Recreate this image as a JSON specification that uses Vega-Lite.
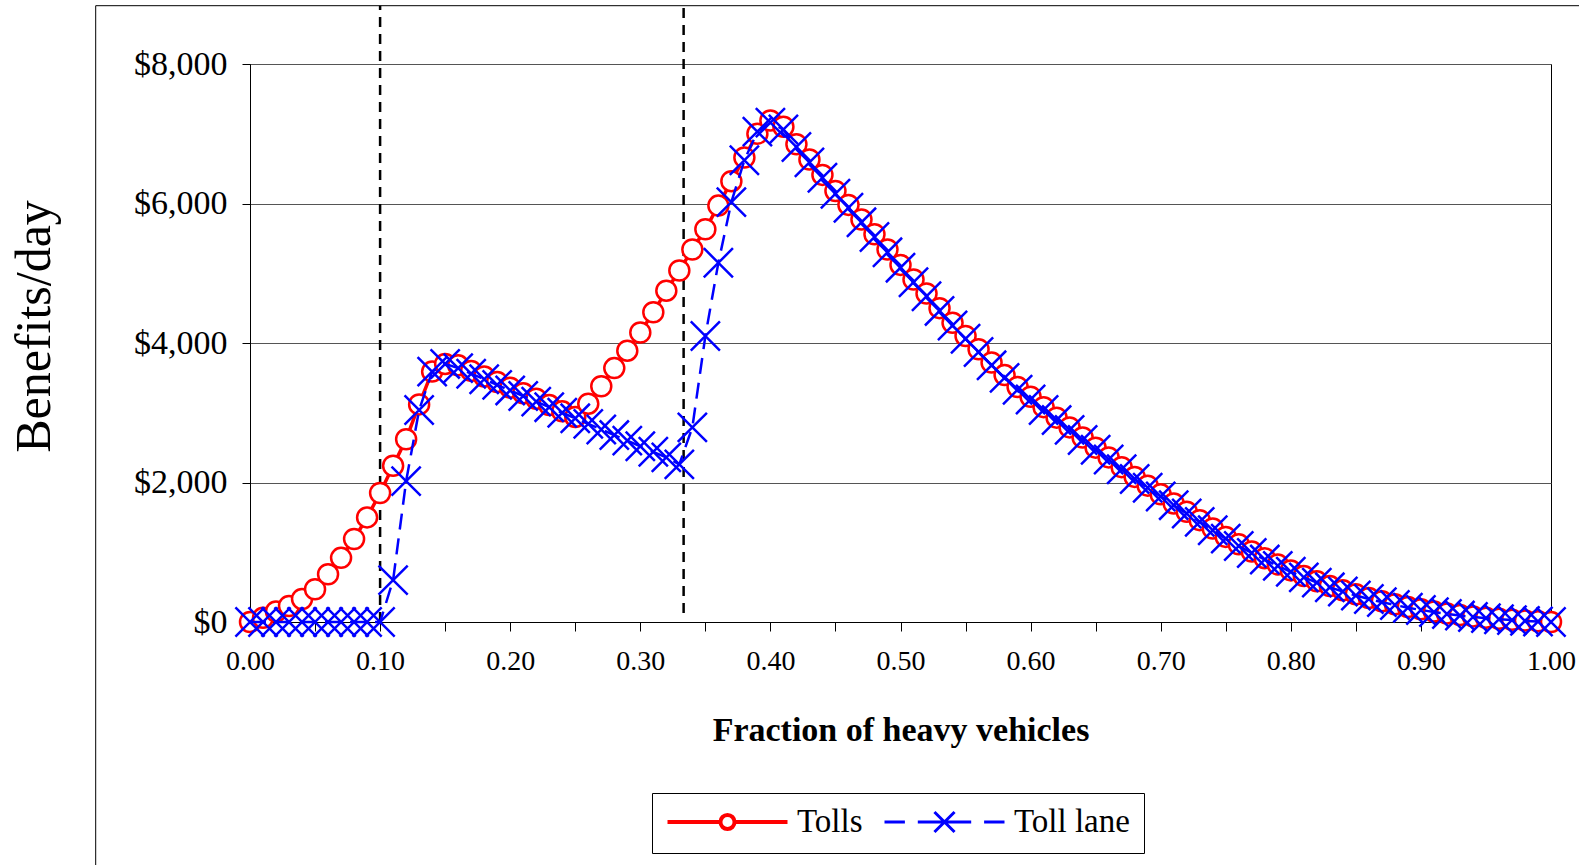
{
  "$schema": "https://vega.github.io/schema/vega-lite/v6.json",
  "width": 1301,
  "height": 558,
  "autosize": {"type": "none"},
  "padding": {"left": 250, "top": 64, "right": 28, "bottom": 243},
  "background": "white",
  "config": {
    "font": "Liberation Serif",
    "view": {"stroke": "#000000", "strokeWidth": 1},
    "axis": {"labelColor": "#000000", "titleColor": "#000000", "domainColor": "#000000", "tickColor": "#000000", "labelFont": "Liberation Serif", "titleFont": "Liberation Serif"}
  },
  "datasets": {
    "benefits": [
      {"x": 0.00, "Tolls": 0, "Toll lane": 0},
      {"x": 0.01, "Tolls": 60, "Toll lane": 0},
      {"x": 0.02, "Tolls": 150, "Toll lane": 0},
      {"x": 0.03, "Tolls": 230, "Toll lane": 0},
      {"x": 0.04, "Tolls": 330, "Toll lane": 0},
      {"x": 0.05, "Tolls": 470, "Toll lane": 0},
      {"x": 0.06, "Tolls": 685, "Toll lane": 0},
      {"x": 0.07, "Tolls": 920, "Toll lane": 0},
      {"x": 0.08, "Tolls": 1190, "Toll lane": 0},
      {"x": 0.09, "Tolls": 1500, "Toll lane": 0},
      {"x": 0.10, "Tolls": 1850, "Toll lane": 0},
      {"x": 0.11, "Tolls": 2240, "Toll lane": 600},
      {"x": 0.12, "Tolls": 2620, "Toll lane": 2020},
      {"x": 0.13, "Tolls": 3120, "Toll lane": 3040},
      {"x": 0.14, "Tolls": 3590, "Toll lane": 3590},
      {"x": 0.15, "Tolls": 3700, "Toll lane": 3700},
      {"x": 0.16, "Tolls": 3680, "Toll lane": 3640},
      {"x": 0.17, "Tolls": 3600, "Toll lane": 3560},
      {"x": 0.18, "Tolls": 3520, "Toll lane": 3480},
      {"x": 0.19, "Tolls": 3440, "Toll lane": 3400},
      {"x": 0.20, "Tolls": 3360, "Toll lane": 3320},
      {"x": 0.21, "Tolls": 3280, "Toll lane": 3240},
      {"x": 0.22, "Tolls": 3200, "Toll lane": 3160},
      {"x": 0.23, "Tolls": 3110, "Toll lane": 3080},
      {"x": 0.24, "Tolls": 3020, "Toll lane": 3000},
      {"x": 0.25, "Tolls": 2940, "Toll lane": 2920},
      {"x": 0.26, "Tolls": 3130, "Toll lane": 2840},
      {"x": 0.27, "Tolls": 3380, "Toll lane": 2760},
      {"x": 0.28, "Tolls": 3640, "Toll lane": 2680},
      {"x": 0.29, "Tolls": 3890, "Toll lane": 2600},
      {"x": 0.30, "Tolls": 4150, "Toll lane": 2520},
      {"x": 0.31, "Tolls": 4440, "Toll lane": 2440},
      {"x": 0.32, "Tolls": 4750, "Toll lane": 2360},
      {"x": 0.33, "Tolls": 5040, "Toll lane": 2260},
      {"x": 0.34, "Tolls": 5340, "Toll lane": 2790},
      {"x": 0.35, "Tolls": 5630, "Toll lane": 4100},
      {"x": 0.36, "Tolls": 5970, "Toll lane": 5150},
      {"x": 0.37, "Tolls": 6320, "Toll lane": 6020},
      {"x": 0.38, "Tolls": 6660, "Toll lane": 6620},
      {"x": 0.39, "Tolls": 7000, "Toll lane": 7030},
      {"x": 0.40, "Tolls": 7190, "Toll lane": 7160},
      {"x": 0.41, "Tolls": 7100, "Toll lane": 7060},
      {"x": 0.42, "Tolls": 6850, "Toll lane": 6810},
      {"x": 0.43, "Tolls": 6630, "Toll lane": 6590},
      {"x": 0.44, "Tolls": 6410, "Toll lane": 6370},
      {"x": 0.45, "Tolls": 6180, "Toll lane": 6140},
      {"x": 0.46, "Tolls": 5980, "Toll lane": 5940},
      {"x": 0.47, "Tolls": 5770, "Toll lane": 5730},
      {"x": 0.48, "Tolls": 5560, "Toll lane": 5520},
      {"x": 0.49, "Tolls": 5340, "Toll lane": 5300},
      {"x": 0.50, "Tolls": 5120, "Toll lane": 5080},
      {"x": 0.51, "Tolls": 4910, "Toll lane": 4870},
      {"x": 0.52, "Tolls": 4710, "Toll lane": 4670},
      {"x": 0.53, "Tolls": 4500, "Toll lane": 4460},
      {"x": 0.54, "Tolls": 4290, "Toll lane": 4250},
      {"x": 0.55, "Tolls": 4100, "Toll lane": 4060},
      {"x": 0.56, "Tolls": 3910, "Toll lane": 3870},
      {"x": 0.57, "Tolls": 3720, "Toll lane": 3680},
      {"x": 0.58, "Tolls": 3540, "Toll lane": 3500},
      {"x": 0.59, "Tolls": 3370, "Toll lane": 3330},
      {"x": 0.60, "Tolls": 3230, "Toll lane": 3190},
      {"x": 0.61, "Tolls": 3080, "Toll lane": 3040},
      {"x": 0.62, "Tolls": 2930, "Toll lane": 2895},
      {"x": 0.63, "Tolls": 2790, "Toll lane": 2755},
      {"x": 0.64, "Tolls": 2645, "Toll lane": 2610},
      {"x": 0.65, "Tolls": 2500, "Toll lane": 2470},
      {"x": 0.66, "Tolls": 2360, "Toll lane": 2330},
      {"x": 0.67, "Tolls": 2220, "Toll lane": 2190},
      {"x": 0.68, "Tolls": 2080, "Toll lane": 2050},
      {"x": 0.69, "Tolls": 1955, "Toll lane": 1925},
      {"x": 0.70, "Tolls": 1830, "Toll lane": 1800},
      {"x": 0.71, "Tolls": 1700, "Toll lane": 1675},
      {"x": 0.72, "Tolls": 1580, "Toll lane": 1555},
      {"x": 0.73, "Tolls": 1460, "Toll lane": 1435},
      {"x": 0.74, "Tolls": 1340, "Toll lane": 1315},
      {"x": 0.75, "Tolls": 1220, "Toll lane": 1195},
      {"x": 0.76, "Tolls": 1115, "Toll lane": 1090},
      {"x": 0.77, "Tolls": 1010, "Toll lane": 990},
      {"x": 0.78, "Tolls": 915, "Toll lane": 895},
      {"x": 0.79, "Tolls": 825, "Toll lane": 805},
      {"x": 0.80, "Tolls": 740, "Toll lane": 720},
      {"x": 0.81, "Tolls": 660, "Toll lane": 640},
      {"x": 0.82, "Tolls": 585, "Toll lane": 565},
      {"x": 0.83, "Tolls": 515, "Toll lane": 497},
      {"x": 0.84, "Tolls": 455, "Toll lane": 437},
      {"x": 0.85, "Tolls": 398, "Toll lane": 380},
      {"x": 0.86, "Tolls": 345, "Toll lane": 330},
      {"x": 0.87, "Tolls": 298, "Toll lane": 285},
      {"x": 0.88, "Tolls": 255, "Toll lane": 243},
      {"x": 0.89, "Tolls": 215, "Toll lane": 205},
      {"x": 0.90, "Tolls": 182, "Toll lane": 172},
      {"x": 0.91, "Tolls": 150, "Toll lane": 142},
      {"x": 0.92, "Tolls": 123, "Toll lane": 115},
      {"x": 0.93, "Tolls": 100, "Toll lane": 92},
      {"x": 0.94, "Tolls": 80, "Toll lane": 72},
      {"x": 0.95, "Tolls": 62, "Toll lane": 55},
      {"x": 0.96, "Tolls": 46, "Toll lane": 40},
      {"x": 0.97, "Tolls": 33, "Toll lane": 27},
      {"x": 0.98, "Tolls": 21, "Toll lane": 16},
      {"x": 0.99, "Tolls": 10, "Toll lane": 7},
      {"x": 1.00, "Tolls": 0, "Toll lane": 0}
    ],
    "thresholds": [
      {"x": 0.1, "lo": 0, "hi": 8836},
      {"x": 0.3333, "lo": 130, "hi": 8836}
    ]
  },
  "layer": [
    {
      "data": {"values": [{}]},
      "mark": {"type": "rule", "color": "#000000", "strokeWidth": 1, "clip": false},
      "encoding": {
        "x": {"datum": -0.1186, "type": "quantitative", "scale": {"domain": [0, 1], "nice": false, "zero": false}},
        "y": {"datum": -3700, "type": "quantitative", "scale": {"domain": [0, 8000], "nice": false}},
        "y2": {"datum": 8836}
      }
    },
    {
      "data": {"values": [{}]},
      "mark": {"type": "rule", "color": "#000000", "strokeWidth": 1, "clip": false},
      "encoding": {
        "x": {"datum": -0.1186, "type": "quantitative"},
        "x2": {"datum": 1.1},
        "y": {"datum": 8836, "type": "quantitative"}
      }
    },
    {
      "data": {"name": "thresholds"},
      "mark": {"type": "rule", "color": "#000000", "strokeWidth": 2.5, "strokeDash": [10, 7], "clip": false},
      "encoding": {
        "x": {"field": "x", "type": "quantitative"},
        "y": {"field": "lo", "type": "quantitative"},
        "y2": {"field": "hi"}
      }
    },
    {
      "data": {"name": "benefits"},
      "transform": [
        {"fold": ["Tolls", "Toll lane"], "as": ["series", "v"]},
        {"filter": "datum.series === 'Tolls'"}
      ],
      "mark": {"type": "line", "strokeWidth": 3.5, "clip": false},
      "encoding": {
        "x": {
          "field": "x", "type": "quantitative",
          "scale": {"domain": [0, 1], "nice": false, "zero": false},
          "axis": {
            "title": "Fraction of heavy vehicles",
            "titleFontSize": 34, "titleFontWeight": "bold",
            "titleY": 118, "titleBaseline": "alphabetic",
            "values": [0, 0.05, 0.1, 0.15, 0.2, 0.25, 0.3, 0.35, 0.4, 0.45, 0.5, 0.55, 0.6, 0.65, 0.7, 0.75, 0.8, 0.85, 0.9, 0.95, 1],
            "labelExpr": "round(datum.value * 20) % 2 === 0 ? format(datum.value, '.2f') : ''",
            "labelFontSize": 28, "labelFlush": false, "labelOverlap": false,
            "tickSize": 9, "labelPadding": 16, "grid": false
          }
        },
        "y": {
          "field": "v", "type": "quantitative",
          "scale": {"domain": [0, 8000], "nice": false},
          "axis": {
            "title": "Benefits/day",
            "titleFontSize": 50, "titleFontWeight": "normal",
            "titleX": -216, "titleY": 262, "titleAngle": -90,
            "titleAlign": "center", "titleBaseline": "middle",
            "values": [0, 2000, 4000, 6000, 8000],
            "format": "$,.0f",
            "labelFontSize": 34, "tickSize": 8, "labelPadding": 15,
            "grid": true, "gridColor": "#555555", "gridWidth": 1
          }
        },
        "color": {
          "field": "series", "type": "nominal",
          "scale": {"domain": ["Tolls", "Toll lane"], "range": ["#FF0000", "#0000FF"]},
          "legend": {
            "title": null,
            "orient": "none", "legendX": 402, "legendY": 729,
            "direction": "horizontal",
            "strokeColor": "#000000", "fillColor": "#FFFFFF",
            "padding": 14,
            "symbolSize": 900,
            "clipHeight": 30,
            "symbolOffset": 45,
            "labelFont": "Liberation Serif", "labelFontSize": 33, "labelColor": "#000000",
            "labelOffset": 53, "columnPadding": 20,
            "encode": {
              "symbols": {
                "update": {
                  "shape": {"signal": "datum.value === 'Tolls' ? 'M-4,0H-0.47M0.47,0H4M-0.47,0A0.47,0.47,0,1,1,0.47,0A0.47,0.47,0,1,1,-0.47,0' : 'M-4,0H-2.64M-1.78,0H1.78M2.64,0H4M-0.67,-0.67L0.67,0.67M-0.67,0.67L0.67,-0.67'"},
                  "strokeWidth": {"signal": "datum.value === 'Tolls' ? 4 : 3"},
                  "fill": {"value": "#FFFFFF"},
                  "fillOpacity": {"value": 1},
                  "opacity": {"value": 1},
                  "strokeDash": {"value": []}
                }
              }
            }
          }
        }
      }
    },
    {
      "data": {"name": "benefits"},
      "transform": [
        {"fold": ["Tolls", "Toll lane"], "as": ["series", "v"]},
        {"filter": "datum.series === 'Tolls'"}
      ],
      "mark": {"type": "point", "shape": "circle", "fill": "#FFFFFF", "stroke": "#FF0000", "strokeWidth": 2.5, "size": 400, "opacity": 1, "fillOpacity": 1, "clip": false},
      "encoding": {
        "x": {"field": "x", "type": "quantitative"},
        "y": {"field": "v", "type": "quantitative"}
      }
    },
    {
      "data": {"name": "benefits"},
      "transform": [
        {"fold": ["Tolls", "Toll lane"], "as": ["series", "v"]},
        {"filter": "datum.series === 'Toll lane'"}
      ],
      "mark": {"type": "line", "color": "#0000FF", "strokeWidth": 2.5, "strokeDash": [16, 9], "clip": false},
      "encoding": {
        "x": {"field": "x", "type": "quantitative"},
        "y": {"field": "v", "type": "quantitative"}
      }
    },
    {
      "data": {"name": "benefits"},
      "transform": [
        {"fold": ["Tolls", "Toll lane"], "as": ["series", "v"]},
        {"filter": "datum.series === 'Toll lane'"}
      ],
      "mark": {"type": "point", "shape": "M-1,-1L1,1M-1,1L1,-1", "filled": false, "stroke": "#0000FF", "strokeWidth": 2.5, "size": 850, "opacity": 1, "clip": false},
      "encoding": {
        "x": {"field": "x", "type": "quantitative"},
        "y": {"field": "v", "type": "quantitative"}
      }
    }
  ]
}
